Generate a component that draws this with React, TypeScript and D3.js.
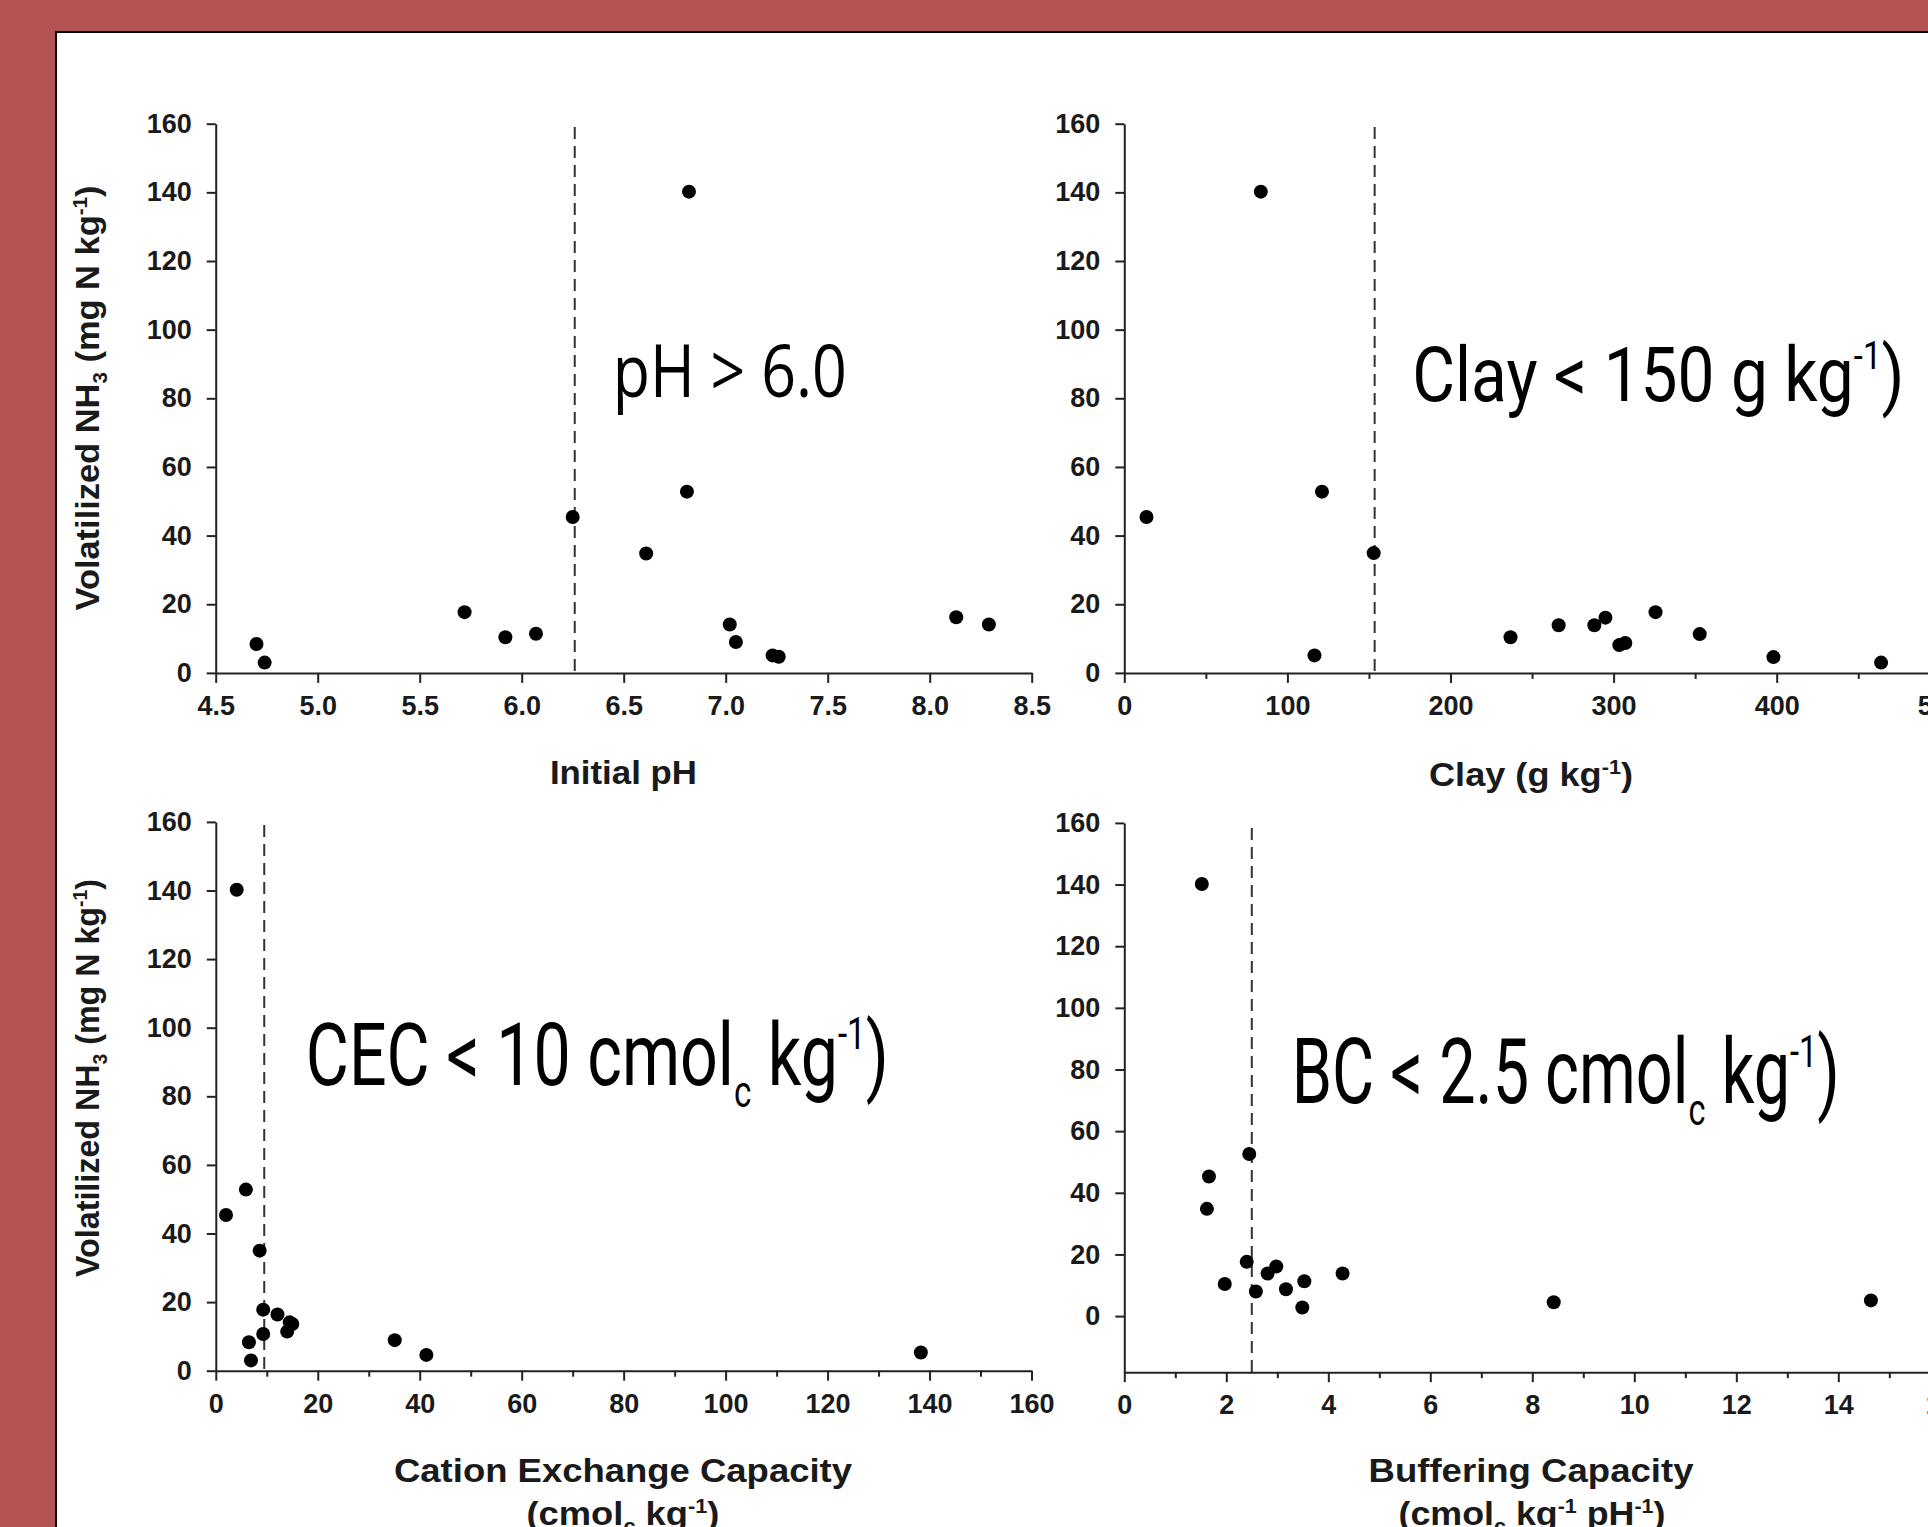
import React, { useRef, useEffect } from 'react';
import * as d3 from 'd3';

const W = 1928;
const H = 1527;

// Initial pH panel
const phX = [4.70, 4.74, 5.72, 5.92, 6.07, 6.25, 6.61, 6.82, 6.81, 7.02, 7.05, 7.23, 7.26, 8.13, 8.29];
const phY = [8.4, 3.0, 17.7, 10.4, 11.4, 45.4, 34.8, 140.2, 52.8, 14.1, 9.0, 5.1, 4.7, 16.2, 14.1];
const phTicks = [4.5, 5.0, 5.5, 6.0, 6.5, 7.0, 7.5, 8.0, 8.5];

// Clay panel
const clayX = [13.6, 83.7, 121.2, 116.6, 152.9, 236.8, 266.3, 288.2, 295.0, 303.5, 307.2, 325.7, 352.8, 398.0, 464.0];
const clayY = [45.4, 140.2, 52.8, 5.1, 34.9, 10.4, 13.9, 13.9, 16.1, 8.1, 8.7, 17.7, 11.3, 4.6, 3.0];
const clayTicks = [0, 100, 200, 300, 400, 500];
const clayMinor = [50, 150, 250, 350, 450];

// CEC panel
const cecX = [4.1, 2.0, 5.9, 8.6, 9.3, 12.1, 14.5, 15.0, 14.0, 9.3, 6.5, 6.9, 35.1, 41.3, 138.3];
const cecY = [140.2, 45.4, 52.8, 35.0, 17.8, 16.4, 14.1, 13.6, 11.4, 10.7, 8.3, 3.0, 8.9, 4.6, 5.3];
const cecTicks = [0, 20, 40, 60, 80, 100, 120, 140, 160];
const cecMinor = [10, 30, 50, 70, 90, 110, 130, 150];

// Buffering capacity panel
const bcX = [1.52, 2.45, 1.66, 1.62, 2.40, 2.98, 2.81, 4.28, 3.53, 1.97, 3.17, 2.58, 3.49, 8.42, 14.64];
const bcY = [140.2, 52.6, 45.3, 34.8, 17.6, 16.1, 13.8, 13.8, 11.3, 10.4, 8.7, 8.0, 2.8, 4.5, 5.1];
const bcTicks = [0, 2, 4, 6, 8, 10, 12, 14, 16];
const bcMinor = [1, 3, 5, 7, 9, 11, 13, 15];

const yTicks = [0, 20, 40, 60, 80, 100, 120, 140, 160];

const BOLD = "'Liberation Sans', Arial, sans-serif";
const NARROW = "Roboto, 'Open Sans', sans-serif";
const HUMAN = "'Open Sans', 'Noto Sans', sans-serif";

const App = () => {
  const svgRef = useRef(null);

  useEffect(() => {
    const svg = d3.select(svgRef.current);
    svg.selectAll('*').remove();

    // background and white slide panel
    svg.append('rect').attr('width', W).attr('height', H).attr('fill', '#b35353');
    svg.append('rect')
      .attr('x', 56).attr('y', 32).attr('width', 2000).attr('height', 2000)
      .attr('fill', '#fff').attr('stroke', '#000').attr('stroke-width', 2);

    const drawPanel = (p) => {
      const x = d3.scaleLinear().domain(p.xDomain).range(p.xRange);
      const y = d3.scaleLinear().domain(p.yDomain).range(p.yRange);
      const x0 = p.xRange[0];
      const yBase = p.yRange[0];

      const styleAxis = (g) => {
        g.selectAll('path.domain').attr('stroke', '#222').attr('stroke-width', 2);
        g.selectAll('.tick line').attr('stroke', '#222').attr('stroke-width', 2);
        g.selectAll('.tick text')
          .attr('font-family', BOLD).attr('font-weight', 'bold')
          .attr('font-size', 27).attr('fill', '#1a1a1a');
      };

      // y axis
      svg.append('g')
        .attr('transform', `translate(${x0},0)`)
        .call(d3.axisLeft(y).tickValues(yTicks).tickSize(9).tickSizeOuter(0).tickPadding(15))
        .call(styleAxis);

      // minor x ticks
      if (p.xMinor) {
        svg.append('g')
          .attr('transform', `translate(0,${yBase})`)
          .call(d3.axisBottom(x).tickValues(p.xMinor).tickSize(6).tickFormat(() => ''))
          .call((g) => g.select('path.domain').remove())
          .call(styleAxis);
      }

      // x axis
      svg.append('g')
        .attr('transform', `translate(0,${yBase})`)
        .call(d3.axisBottom(x).tickValues(p.xTicks).tickSize(10).tickSizeOuter(0)
          .tickPadding(13).tickFormat(p.xFormat))
        .call(styleAxis);

      // threshold line
      svg.append('line')
        .attr('x1', x(p.cut)).attr('x2', x(p.cut))
        .attr('y1', p.cutTop).attr('y2', yBase)
        .attr('stroke', '#333').attr('stroke-width', 2)
        .attr('stroke-dasharray', '12,7');

      // points
      svg.append('g').selectAll('circle')
        .data(p.xs.map((v, i) => [v, p.ys[i]]))
        .enter()
        .append('circle')
        .attr('cx', (d) => x(d[0]))
        .attr('cy', (d) => y(d[1]))
        .attr('r', 7)
        .attr('fill', '#000');
    };

    drawPanel({
      xDomain: [4.5, 8.5], xRange: [215.7, 1031.7],
      yDomain: [0, 160], yRange: [672.9, 123.7],
      xTicks: phTicks, xFormat: d3.format('.1f'),
      cut: 6.26, cutTop: 127, xs: phX, ys: phY,
    });
    drawPanel({
      xDomain: [0, 500], xRange: [1124.3, 1939.8],
      yDomain: [0, 160], yRange: [672.9, 123.7],
      xTicks: clayTicks, xMinor: clayMinor, xFormat: d3.format('d'),
      cut: 153.5, cutTop: 127, xs: clayX, ys: clayY,
    });
    drawPanel({
      xDomain: [0, 160], xRange: [215.8, 1031.5],
      yDomain: [0, 160], yRange: [1370.7, 821.9],
      xTicks: cecTicks, xMinor: cecMinor, xFormat: d3.format('d'),
      cut: 9.5, cutTop: 825, xs: cecX, ys: cecY,
    });
    drawPanel({
      xDomain: [0, 16], xRange: [1124.3, 1940.3],
      yDomain: [-18.2, 160], yRange: [1372.2, 822.9],
      xTicks: bcTicks, xMinor: bcMinor, xFormat: d3.format('d'),
      cut: 2.5, cutTop: 828, xs: bcX, ys: bcY,
    });

    // text helper: parts = [text, shift, sizeFactor]
    const rich = (g, parts, size) => {
      let cur = 0;
      parts.forEach(([t, shift, f]) => {
        g.append('tspan')
          .attr('dy', shift - cur)
          .attr('font-size', size * (f || 1))
          .text(t);
        cur = shift;
      });
    };

    // y axis titles
    const yTitle = (cx, cy, len) => {
      const t = svg.append('text')
        .attr('transform', `translate(${cx},${cy}) rotate(-90)`)
        .attr('text-anchor', 'middle')
        .attr('font-family', BOLD).attr('font-weight', 'bold')
        .attr('font-size', 33).attr('fill', '#1a1a1a')
        .attr('textLength', len).attr('lengthAdjust', 'spacingAndGlyphs');
      rich(t, [['Volatilized NH', 0], ['3', 8, 0.6], [' (mg N kg', 0], ['-1', -12, 0.6], [')', 0]], 33);
    };
    yTitle(99, 398, 425);
    yTitle(99, 1078, 398);

    // x axis titles
    const xTitle = (cx, by, len, parts) => {
      const t = svg.append('text')
        .attr('x', cx).attr('y', by)
        .attr('text-anchor', 'middle')
        .attr('font-family', BOLD).attr('font-weight', 'bold')
        .attr('font-size', 33).attr('fill', '#1a1a1a')
        .attr('textLength', len).attr('lengthAdjust', 'spacingAndGlyphs');
      rich(t, parts, 33);
    };
    xTitle(623.4, 784, 147, [['Initial pH', 0]]);
    xTitle(1531, 786, 204, [['Clay (g kg', 0], ['-1', -12, 0.6], [')', 0]]);
    xTitle(623, 1482, 458, [['Cation Exchange Capacity', 0]]);
    xTitle(623, 1525, 193, [['(cmol', 0], ['c', 8, 0.6], [' kg', 0], ['-1', -12, 0.6], [')', 0]]);
    xTitle(1531, 1482, 325, [['Buffering Capacity', 0]]);
    xTitle(1532, 1525, 267, [['(cmol', 0], ['c', 8, 0.6], [' kg', 0], ['-1', -12, 0.6], [' pH', 0], ['-1', -12, 0.6], [')', 0]]);

    // threshold annotations
    const note = (x0, by, size, len, family, weight, parts) => {
      const t = svg.append('text')
        .attr('x', x0).attr('y', by)
        .attr('font-family', family).attr('font-weight', weight)
        .attr('font-size', size).attr('fill', '#000')
        .attr('textLength', len).attr('lengthAdjust', 'spacingAndGlyphs');
      rich(t, parts, size);
    };
    note(612.7, 396.7, 74, 234, HUMAN, 400, [['pH > 6.0', 0]]);
    note(1412.3, 401, 76, 492, NARROW, 400, [['Clay < 150 g kg', 0], ['-1', -32, 0.5], [')', 0]]);
    note(305.8, 1085, 88, 583, NARROW, 400, [['CEC < 10 cmol', 0], ['c', 22, 0.5], [' kg', 0], ['-1', -36, 0.5], [')', 0]]);
    note(1291.7, 1103, 90, 548, NARROW, 400, [['BC < 2.5 cmol', 0], ['c', 22, 0.5], [' kg', 0], ['-1', -36, 0.5], [')', 0]]);
  }, []);

  return (
    <svg
      ref={svgRef}
      width={W}
      height={H}
      style={{ position: 'absolute', left: 0, top: 0, display: 'block' }}
    />
  );
};

export default App;
